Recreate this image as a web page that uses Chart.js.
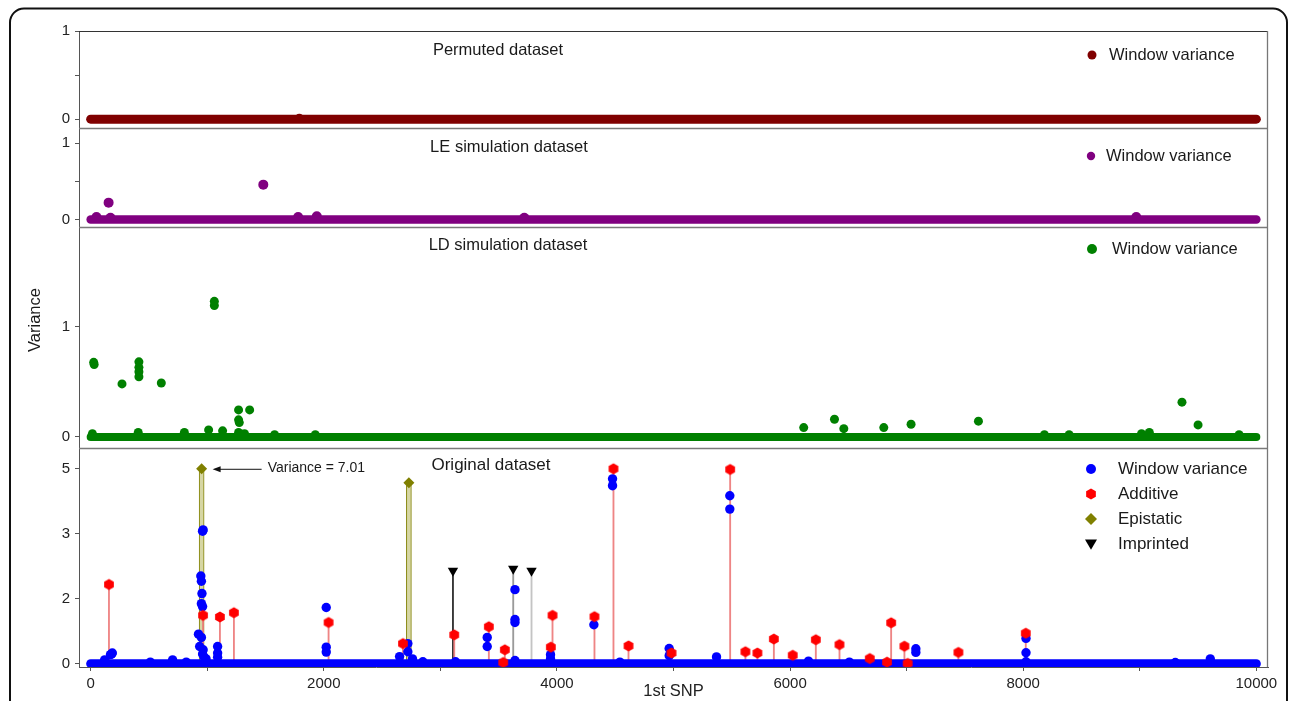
<!DOCTYPE html>
<html>
<head>
<meta charset="utf-8">
<script src="https://cdn.jsdelivr.net/npm/chart.js@4.4.1/dist/chart.umd.min.js"></script>
<style>
  html, body { margin: 0; padding: 0; background: #ffffff; }
  #wrap { position: relative; width: 1290px; height: 701px; overflow: hidden; }
  canvas { display: block; }
</style>
</head>
<body>
<div id="wrap"><canvas id="c" width="1290" height="701"></canvas></div>
<script>
// ---------------- DATA ----------------
const SNP_RANGE = [0, 10000];                 // windows span (baseline band, variance ~0)
const X_TICKS = [0, 1000, 2000, 3000, 4000, 5000, 6000, 7000, 8000, 9000, 10000];
const X_LABELED = [0, 2000, 4000, 6000, 8000, 10000];

const PANEL_TITLES = ['Permuted dataset', 'LE simulation dataset', 'LD simulation dataset', 'Original dataset'];
const LEGEND_WV = 'Window variance';
const LEGEND_ORIG = ['Window variance', 'Additive', 'Epistatic', 'Imprinted'];

// Permuted dataset: all windows at 0
const PERM_X = [1790];
const PERM_Y = [0.01];

// LE simulation dataset
const LE_X = [50, 154, 170, 1481, 1780, 1940, 3720, 8970];
const LE_Y = [0.03, 0.22, 0.02, 0.456, 0.03, 0.04, 0.02, 0.03];

// LD simulation dataset
const LD_X = [26, 30, 269, 414, 414, 414, 414, 606, 1061, 1061, 1269, 1364, 1269, 1275,
              15, 408, 804, 1012, 1132, 1269, 1320, 1578, 1927,
              6117, 6381, 6461, 6804, 7038, 7616, 9362, 9500,
              8182, 8394, 9015, 9082, 9852];
const LD_Y = [0.675, 0.655, 0.48, 0.68, 0.63, 0.59, 0.545, 0.488, 1.227, 1.19, 0.245, 0.245, 0.155, 0.13,
              0.03, 0.04, 0.04, 0.064, 0.055, 0.04, 0.03, 0.02, 0.02,
              0.085, 0.16, 0.075, 0.085, 0.115, 0.143, 0.315, 0.109,
              0.02, 0.02, 0.03, 0.04, 0.02];

// Original dataset: window variance
const ORIG_WV_X = [120, 170, 180, 186, 512, 703, 820,
                   965, 960, 945, 950, 955, 950, 960, 925, 950, 935, 965, 960, 975, 990,
                   1089, 1089, 1089, 2021, 2021, 2021, 2650, 2721, 2721, 2761, 2850,
                   3130, 3402, 3402, 3640, 3640, 3640, 3640, 3945, 3945, 4317, 4477, 4477, 4540,
                   4963, 4963, 5369, 5483, 5483, 6158, 6509, 7079, 7079, 8024, 8024, 8024, 9305, 9605];
const ORIG_WV_Y = [0.12, 0.28, 0.30, 0.33, 0.05, 0.12, 0.05,
                   3.12, 3.08, 2.35, 2.27, 2.08, 1.85, 1.76, 0.91, 0.81, 0.53, 0.43, 0.30, 0.20, 0.15,
                   0.53, 0.33, 0.20, 1.73, 0.51, 0.36, 0.22, 0.62, 0.37, 0.15, 0.06,
                   0.06, 0.81, 0.53, 2.14, 1.36, 1.27, 0.10, 0.28, 0.15, 1.20, 4.69, 4.48, 0.05,
                   0.47, 0.25, 0.21, 4.17, 3.76, 0.08, 0.05, 0.46, 0.35, 0.78, 0.34, 0.06, 0.04, 0.15];

// Original dataset: simulated effects
const ADD_X = [157, 964, 1109, 1229, 2041, 2679, 3119, 3416, 3539, 3553, 3948, 3962, 4322, 4485, 4614,
               4983, 5486, 5617, 5720, 5861, 6023, 6221, 6424, 6684, 6832, 6867, 6981, 7009, 7444, 8022];
const ADD_Y = [2.22, 1.49, 1.44, 1.57, 1.27, 0.62, 0.89, 1.14, 0.04, 0.43, 0.51, 1.49, 1.45, 5.0, 0.55,
               0.33, 4.98, 0.37, 0.33, 0.76, 0.26, 0.74, 0.59, 0.16, 0.05, 1.26, 0.54, 0.01, 0.35, 0.94];
const EPI_X = [952, 2730];
const EPI_Y = [7.01, 4.57];
const IMP_X = [3108, 3625, 3782];
const IMP_Y = [2.43, 2.46, 2.43];

// Original panel axis (broken scale: ticks equally spaced)
const ORIG_TICKS = [0, 2, 3, 5];
const ORIG_CAP = 5;
const EPI_NOTE = 'Variance = 7.01';

// ---------------- HELPERS ----------------
function toAxis(v) {
  const t = ORIG_TICKS;
  if (v <= t[0]) return (v - t[0]) / (t[1] - t[0]);
  for (let i = 0; i < t.length - 1; i++) {
    if (v <= t[i + 1]) return i + (v - t[i]) / (t[i + 1] - t[i]);
  }
  const n = t.length - 1;
  return n - 1 + (v - t[n - 1]) / (t[n] - t[n - 1]);
}
const pts = (xs, ys) => xs.map((x, i) => ({ x: x, y: ys[i] }));
const origPts = (xs, ys) => xs.map((x, i) => ({ x: x, y: toAxis(Math.min(ys[i], ORIG_CAP)) }));
const band = () => SNP_RANGE.map(x => ({ x: x, y: 0 }));

function hexCanvas(r, color) {
  const s = Math.ceil(r * 2) + 2;
  const c = document.createElement('canvas');
  c.width = s; c.height = s;
  const g = c.getContext('2d');
  g.fillStyle = color;
  g.beginPath();
  for (let k = 0; k < 6; k++) {
    const a = -Math.PI / 2 + k * Math.PI / 3;
    const px = s / 2 + r * Math.cos(a), py = s / 2 + r * Math.sin(a);
    if (k === 0) g.moveTo(px, py); else g.lineTo(px, py);
  }
  g.closePath(); g.fill();
  return c;
}
const HEX = hexCanvas(5.6, '#ff0000');

const FONT = "'Liberation Sans', Arial, sans-serif";
Chart.defaults.font.family = FONT;

const C_PERM = '#800000', C_LE = '#800080', C_LD = '#008000', C_BLUE = '#0000ff',
      C_RED = '#ff0000', C_EPI = '#808000', C_IMP = '#000000';

// ---------------- DATASETS ----------------
const lineBand = (color, axis, w) => ({
  type: 'scatter', yAxisID: axis, data: band(), showLine: true, borderColor: color,
  borderWidth: w, borderCapStyle: 'round', pointRadius: 0, order: 9
});
const dots = (data, color, axis, r, order) => ({
  type: 'scatter', yAxisID: axis, data: data, backgroundColor: color, borderWidth: 0,
  pointRadius: r, pointHoverRadius: r, order: order
});
const stems = (data, color, axis, thick, border, order) => ({
  type: 'bar', yAxisID: axis, xAxisID: 'x', data: data, backgroundColor: color,
  borderColor: border || color, borderWidth: border ? 1 : 0, barThickness: thick,
  grouped: false, order: order
});

const datasets = [
  lineBand(C_PERM, 'yPerm', 9),
  dots(pts(PERM_X, PERM_Y), C_PERM, 'yPerm', 4.5, 8),
  lineBand(C_LE, 'yLE', 8.5),
  dots(pts(LE_X, LE_Y), C_LE, 'yLE', 5, 8),
  lineBand(C_LD, 'yLD', 8),
  dots(pts(LD_X, LD_Y), C_LD, 'yLD', 4.5, 8),
  stems(origPts(ADD_X, ADD_Y), 'rgba(236,120,120,0.9)', 'yOrig', 1.2, null, 20),
  stems(origPts(EPI_X, EPI_Y), '#d6d6a4', 'yOrig', 5, C_EPI, 21),
  stems(origPts(IMP_X, IMP_Y), ['#333333', '#9a9a9a', '#c4c4c4'], 'yOrig', 1.2, null, 20),
  lineBand(C_BLUE, 'yOrig', 9),
  dots(origPts(ORIG_WV_X, ORIG_WV_Y), C_BLUE, 'yOrig', 4.7, 6),
  { type: 'scatter', yAxisID: 'yOrig', data: origPts(ADD_X, ADD_Y), pointStyle: HEX, order: 5 },
  { type: 'scatter', yAxisID: 'yOrig', data: origPts(EPI_X, EPI_Y), pointStyle: 'rectRot',
    backgroundColor: C_EPI, borderWidth: 0, pointRadius: 5.5, order: 4 },
  { type: 'scatter', yAxisID: 'yOrig', data: origPts(IMP_X, IMP_Y), pointStyle: 'triangle',
    rotation: 180, backgroundColor: C_IMP, borderWidth: 0, pointRadius: 6, order: 4 }
];

// ---------------- SCALES ----------------
function yScale(weight, min, max, tickVals, labelFn) {
  return {
    type: 'linear', position: 'left', stack: 'panels', stackWeight: weight,
    min: min, max: max, offset: false,
    border: { display: true, color: '#555555', width: 1 },
    grid: { drawOnChartArea: false, tickLength: 4, color: '#555555' },
    ticks: { color: '#222222', font: { size: 15 }, padding: 5, autoSkip: false, callback: labelFn },
    afterBuildTicks: s => { s.ticks = tickVals.map(v => ({ value: v })); },
    afterFit: s => { s.width = 40; }
  };
}
const plainLabel = v => (v === 0.5 ? '' : String(v));

const scales = {
  x: {
    type: 'linear', position: 'bottom', min: -100, max: 10100, offset: false,
    border: { display: true, color: '#555555', width: 1 },
    grid: { drawOnChartArea: false, tickLength: 4, color: '#555555', offset: false },
    ticks: { color: '#222222', font: { size: 15 }, padding: 4, autoSkip: false, maxRotation: 0,
             callback: v => (X_LABELED.includes(v) ? String(v) : '') },
    afterBuildTicks: s => { s.ticks = X_TICKS.map(v => ({ value: v })); },
    title: { display: true, text: '1st SNP', color: '#222222', font: { size: 16.5 }, padding: { top: 0, bottom: 0 } },
    afterFit: s => { s.height = 34; }
  },
  yOrig: yScale(219, -0.05, 3.32, ORIG_TICKS.map(toAxis), (v, i) => String(ORIG_TICKS[i])),
  yLD: yScale(221, -0.1, 1.9, [0, 1], plainLabel),
  yLE: yScale(99, -0.1, 1.2, [0, 0.5, 1], plainLabel),
  yPerm: yScale(97, -0.1, 1.0, [0, 0.5, 1], plainLabel)
};

// ---------------- DECORATION PLUGIN ----------------
function marker(ctx, style, x, y, r, color) {
  ctx.save();
  ctx.fillStyle = color;
  ctx.beginPath();
  if (style === 'circle') {
    ctx.arc(x, y, r, 0, Math.PI * 2);
  } else if (style === 'hex') {
    for (let k = 0; k < 6; k++) {
      const a = -Math.PI / 2 + k * Math.PI / 3;
      const px = x + r * Math.cos(a), py = y + r * Math.sin(a);
      if (k === 0) ctx.moveTo(px, py); else ctx.lineTo(px, py);
    }
  } else if (style === 'diamond') {
    ctx.moveTo(x, y - r); ctx.lineTo(x + r, y); ctx.lineTo(x, y + r); ctx.lineTo(x - r, y);
  } else if (style === 'tri') {
    ctx.moveTo(x - r, y - r * 0.75); ctx.lineTo(x + r, y - r * 0.75); ctx.lineTo(x, y + r * 0.95);
  }
  ctx.closePath(); ctx.fill();
  ctx.restore();
}

const decor = {
  id: 'decor',
  beforeDraw(chart) {
    const ctx = chart.ctx;
    ctx.save();
    ctx.fillStyle = '#ffffff';
    ctx.fillRect(0, 0, chart.width, chart.height);
    ctx.strokeStyle = '#111111';
    ctx.lineWidth = 2;
    ctx.beginPath();
    ctx.roundRect(10, 8.5, 1277, 760, 14);
    ctx.stroke();
    ctx.restore();
  },
  afterDatasetsDraw(chart) {
    const ctx = chart.ctx, ca = chart.chartArea, sc = chart.scales;
    ctx.save();
    // panel frames
    ctx.strokeStyle = '#333333'; ctx.lineWidth = 1.2;
    ctx.beginPath(); ctx.moveTo(ca.left, ca.top + 0.5); ctx.lineTo(ca.right, ca.top + 0.5); ctx.stroke();
    ctx.strokeStyle = '#7a7a7a'; ctx.lineWidth = 1.6;
    ['yLE', 'yLD', 'yOrig'].forEach(id => {
      const y = Math.round(sc[id].top) + 0.5;
      ctx.beginPath(); ctx.moveTo(ca.left, y); ctx.lineTo(ca.right, y); ctx.stroke();
    });
    ctx.strokeStyle = '#777777'; ctx.lineWidth = 1.3;
    ctx.beginPath(); ctx.moveTo(ca.right - 0.5, ca.top); ctx.lineTo(ca.right - 0.5, ca.bottom); ctx.stroke();

    // panel titles
    ctx.fillStyle = '#1a1a1a'; ctx.textBaseline = 'middle'; ctx.textAlign = 'center';
    const titleSpec = [['yPerm', 498, 19, 16.5], ['yLE', 509, 19, 16.5], ['yLD', 508, 18, 16.5], ['yOrig', 491, 17, 17]];
    titleSpec.forEach((t, i) => {
      ctx.font = t[3] + 'px ' + FONT;
      ctx.fillText(PANEL_TITLES[i], t[1], sc[t[0]].top + t[2]);
    });

    // legends (top three panels)
    ctx.textAlign = 'left';
    const legSpec = [['yPerm', 1092, 1109, 24, 4.5, C_PERM], ['yLE', 1091, 1106, 28, 4.2, C_LE], ['yLD', 1092, 1112, 22, 5, C_LD]];
    ctx.font = '16.5px ' + FONT;
    legSpec.forEach(l => {
      const y = sc[l[0]].top + l[3];
      marker(ctx, 'circle', l[1], y, l[4], l[5]);
      ctx.fillStyle = '#1a1a1a';
      ctx.fillText(LEGEND_WV, l[2], y);
    });
    // legend original
    ctx.font = '17px ' + FONT;
    const styles = [['circle', C_BLUE, 5], ['hex', C_RED, 5.6], ['diamond', C_EPI, 6], ['tri', C_IMP, 6]];
    LEGEND_ORIG.forEach((txt, i) => {
      const y = sc.yOrig.top + 21 + i * 25;
      marker(ctx, styles[i][0], 1091, y, styles[i][2], styles[i][1]);
      ctx.fillStyle = '#1a1a1a';
      ctx.fillText(txt, 1118, y);
    });

    // annotation for the clipped epistatic point
    const px = sc.x.getPixelForValue(EPI_X[0]);
    const py = sc.yOrig.getPixelForValue(toAxis(ORIG_CAP));
    ctx.strokeStyle = '#111111'; ctx.fillStyle = '#111111'; ctx.lineWidth = 1;
    ctx.beginPath(); ctx.moveTo(px + 14, py + 0.5); ctx.lineTo(px + 60, py + 0.5); ctx.stroke();
    ctx.beginPath(); ctx.moveTo(px + 11, py + 0.5); ctx.lineTo(px + 19, py - 2.5); ctx.lineTo(px + 19, py + 3.5); ctx.closePath(); ctx.fill();
    ctx.font = '14px ' + FONT; ctx.fillStyle = '#1a1a1a';
    ctx.fillText(EPI_NOTE, px + 66, py - 0.5);

    // shared y-axis title
    ctx.translate(35, 320); ctx.rotate(-Math.PI / 2);
    ctx.textAlign = 'center'; ctx.font = '16.5px ' + FONT;
    ctx.fillText('Variance', 0, 0);
    ctx.restore();
  }
};

// ---------------- CHART ----------------
new Chart(document.getElementById('c'), {
  type: 'scatter',
  data: { datasets: datasets },
  options: {
    responsive: false, animation: false, events: [],
    layout: { padding: { left: 39, top: 31, right: 22, bottom: 0 } },
    plugins: { legend: { display: false }, tooltip: { enabled: false } },
    scales: scales
  },
  plugins: [decor]
});
</script>
</body>
</html>
